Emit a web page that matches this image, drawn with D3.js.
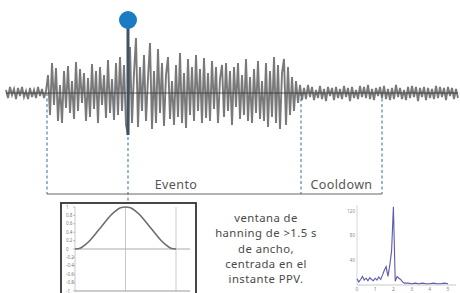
<!DOCTYPE html>
<html lang="es">
<head>
<meta charset="UTF-8">
<title>Evento PPV</title>
<style>
  body { margin: 0; background: #fff; }
  svg { display: block; }
  text { font-family: "Noto Sans", sans-serif; }
</style>
<script src="https://d3js.org/d3.v7.min.js"></script>
</head>
<body>
<svg></svg>
<script>
// seismic trace (arbitrary amplitude units, one value per sample)
const trace = [
  3,-5,6,-2,4,-6,5,-3,6,-4,2,-6,5,-4,3,-5,6,-3,4,-5,2,
  18,-22,30,-12,25,-28,8,-30,22,-15,27,-20,12,-26,31,-18,24,-10,20,-28,
  15,-24,29,-16,22,-30,26,-12,18,-25,33,-20,14,-27,30,-22,36,-18,28,-32,
  -42,
  46,-30,20,55,-34,26,-18,38,-28,15,50,-36,22,-30,44,-20,30,-33,18,36,
  -26,12,-32,28,-24,40,-30,20,-35,34,-22,26,-28,38,-18,24,-30,35,-25,
  20,-28,32,-16,26,-30,14,28,-24,30,-18,22,-32,26,-14,30,-26,18,-22,34,
  -28,16,-30,24,-20,32,-26,12,-28,30,-34,22,-24,36,-30,28,-36,20,34,-32,
  26,-22,16,-18,12,-10,8,
  -7,5,-6,8,-4,6,-7,3,-5,7,-6,4,-8,6,-3,5,-7,6,-5,4,
  -6,7,-4,5,-8,6,-5,3,-6,7,-4,6,-5,8,-6,4,-7,5,-3,6,
  -5,7,-6,4,-7,5,-6,8,-4,5,-6,3,-7,6,-5,7,-4,6,-8,5,
  -4,6,-7,5,-5,4,-6,7,-5,6,-4,5,-7,6,-3,5,-6,4,-5
];
const ppvIndex = 61;
const markers = [20.5, 61, 147.5, 188];      // sample index of event start, PPV, event end, cooldown end
const phases = ["Evento", "Cooldown"];

// hanning window
const hannT = [-1,-0.9,-0.8,-0.7,-0.6,-0.5,-0.4,-0.3,-0.2,-0.1,0,0.1,0.2,0.3,0.4,0.5,0.6,0.7,0.8,0.9,1];
const hannW = [0,0.02,0.1,0.21,0.35,0.5,0.65,0.79,0.9,0.98,1,0.98,0.9,0.79,0.65,0.5,0.35,0.21,0.1,0.02,0];
const hannTicks = [1,0.8,0.6,0.4,0.2,0,-0.2,-0.4,-0.6,-0.8,-1];

// spectrum
const specF = [0,0.1,0.2,0.3,0.4,0.5,0.6,0.7,0.8,0.9,1,1.1,1.2,1.3,1.4,1.5,1.6,1.7,1.8,1.9,2,2.1,2.2,2.3,2.4,2.5,2.6,2.8,3,3.2,3.4,3.6,3.8,4,4.2,4.4,4.6,4.8,5];
const specA = [10,5,9,14,8,11,7,12,9,7,11,8,13,9,16,24,30,14,32,55,127,6,14,11,9,5,3,3,2,3,2,3,2,2,3,2,2,3,2];
const specXTicks = [0,1,2,3,4,5];
const specYTicks = [40,80,120];

const caption = ["ventana de", "hanning de >1.5 s", "de ancho,", "centrada en el", "instante PPV."];

const width = 460, height = 293;
const svg = d3.select("svg").attr("width", width).attr("height", height);

// ---- main trace ----
const x = d3.scaleLinear().domain([0, trace.length - 1]).range([6, 458]);
const y = d3.scaleLinear().domain([-60, 60]).range([153, 33]);

const dashColor = "#4f8aa6";
svg.append("g")
    .selectAll("line")
    .data(markers)
    .enter().append("line")
    .attr("x1", d => x(d)).attr("x2", d => x(d))
    .attr("y1", y(0))
    .attr("y2", (d, i) => i === 1 ? 203 : 194)
    .attr("stroke", dashColor)
    .attr("stroke-width", 1.2)
    .attr("stroke-dasharray", "3,2.5");

svg.append("path")
    .datum(trace)
    .attr("fill", "none")
    .attr("stroke", "#5c5c5c")
    .attr("stroke-opacity", 0.82)
    .attr("stroke-width", 1.9)
    .attr("d", d3.line().x((d, i) => x(i)).y(d => y(d)));

svg.append("line")
    .attr("x1", x(0)).attr("x2", x(trace.length - 1))
    .attr("y1", y(0)).attr("y2", y(0))
    .attr("stroke", "#333").attr("stroke-width", 0.8);

// PPV stem + dot
svg.append("line")
    .attr("x1", x(ppvIndex)).attr("x2", x(ppvIndex))
    .attr("y1", 20).attr("y2", y(trace[ppvIndex]))
    .attr("stroke", "#3e5365").attr("stroke-width", 3);
svg.append("circle")
    .attr("cx", x(ppvIndex)).attr("cy", 20).attr("r", 9)
    .attr("fill", "#1a7cc4");

// phase bracket
svg.append("line")
    .attr("x1", x(markers[0])).attr("x2", x(markers[3]))
    .attr("y1", 194).attr("y2", 194)
    .attr("stroke", "#666").attr("stroke-width", 1);

const phaseBounds = [[markers[0], markers[2]], [markers[2], markers[3]]];
svg.append("g")
    .selectAll("text")
    .data(phases)
    .enter().append("text")
    .attr("x", (d, i) => i === 0 ? 176 : (x(phaseBounds[i][0]) + x(phaseBounds[i][1])) / 2)
    .attr("y", 189)
    .attr("text-anchor", "middle")
    .attr("font-size", 12.5)
    .attr("letter-spacing", 0.4)
    .attr("fill", "#555")
    .text(d => d);

// ---- hanning inset ----
svg.append("rect")
    .attr("x", 61).attr("y", 203).attr("width", 135).attr("height", 100)
    .attr("fill", "#fff").attr("stroke", "#333").attr("stroke-width", 1.8);

const hx = d3.scaleLinear().domain([-1, 1]).range([75, 176]);
const hy = d3.scaleLinear().domain([-1, 1]).range([291, 207]);

const hg = svg.append("g");
hg.selectAll("line.v")
    .data([-1, 0, 1])
    .enter().append("line")
    .attr("x1", d => hx(d)).attr("x2", d => hx(d))
    .attr("y1", hy(1)).attr("y2", hy(-1))
    .attr("stroke", "#bbb").attr("stroke-width", 0.8);
hg.append("line")
    .attr("x1", hx(-1)).attr("x2", 190)
    .attr("y1", hy(0)).attr("y2", hy(0))
    .attr("stroke", "#aaa").attr("stroke-width", 1);
hg.append("line")
    .attr("x1", hx(-1)).attr("x2", 190)
    .attr("y1", hy(-1)).attr("y2", hy(-1))
    .attr("stroke", "#999").attr("stroke-width", 1);
hg.selectAll("text")
    .data(hannTicks)
    .enter().append("text")
    .attr("x", 66)
    .attr("y", d => hy(d) + 1.5)
    .attr("font-size", 4.5)
    .attr("fill", "#777")
    .text(d => d);
hg.selectAll("line.t")
    .data(hannTicks)
    .enter().append("line")
    .attr("x1", hx(-1) - 2).attr("x2", hx(-1))
    .attr("y1", d => hy(d)).attr("y2", d => hy(d))
    .attr("stroke", "#999").attr("stroke-width", 0.6);
hg.append("path")
    .datum(hannT.map((t, i) => [t, hannW[i]]))
    .attr("fill", "none")
    .attr("stroke", "#6e6e6e")
    .attr("stroke-width", 1.6)
    .attr("d", d3.line().x(d => hx(d[0])).y(d => hy(d[1])).curve(d3.curveMonotoneX));

// ---- caption ----
svg.append("g")
    .selectAll("text")
    .data(caption)
    .enter().append("text")
    .attr("x", 266)
    .attr("y", (d, i) => 222 + i * 15.3)
    .attr("text-anchor", "middle")
    .attr("font-size", 11.3)
    .attr("letter-spacing", 0.45)
    .attr("fill", "#4a4a4a")
    .text(d => d);

// ---- spectrum inset ----
const sx = d3.scaleLinear().domain([0, 5]).range([357, 448]);
const sy = d3.scaleLinear().domain([0, 130]).range([285, 205]);
const sg = svg.append("g");
sg.append("line")
    .attr("x1", sx(0)).attr("x2", 456)
    .attr("y1", sy(0)).attr("y2", sy(0))
    .attr("stroke", "#bbb").attr("stroke-width", 0.8);
sg.append("line")
    .attr("x1", sx(0)).attr("x2", sx(0))
    .attr("y1", sy(130)).attr("y2", sy(0))
    .attr("stroke", "#ccc").attr("stroke-width", 0.8);
sg.selectAll("text.x")
    .data(specXTicks)
    .enter().append("text")
    .attr("x", d => sx(d))
    .attr("y", 291)
    .attr("text-anchor", "middle")
    .attr("font-size", 5)
    .attr("fill", "#888")
    .text(d => d);
sg.selectAll("text.y")
    .data(specYTicks)
    .enter().append("text")
    .attr("x", sx(0) - 2)
    .attr("y", d => sy(d) + 1.5)
    .attr("text-anchor", "end")
    .attr("font-size", 4.5)
    .attr("fill", "#888")
    .text(d => d);
sg.append("path")
    .datum(specF.map((f, i) => [f, specA[i]]))
    .attr("fill", "none")
    .attr("stroke", "#5a5ab0")
    .attr("stroke-width", 1.1)
    .attr("d", d3.line().x(d => sx(d[0])).y(d => sy(d[1])));
</script>
</body>
</html>
